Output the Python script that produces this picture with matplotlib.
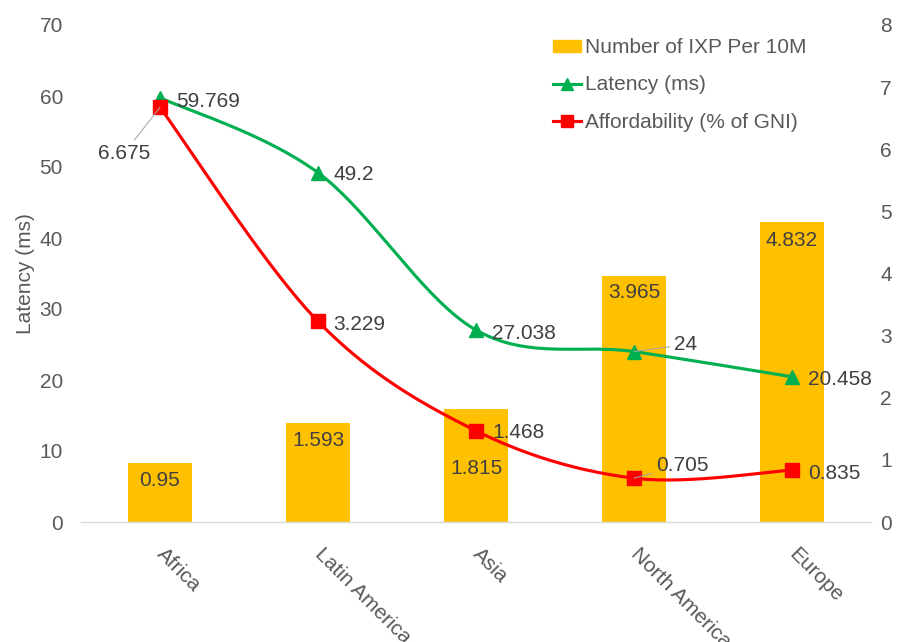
import numpy as np
import matplotlib.pyplot as plt
from matplotlib.patches import Patch
from matplotlib.lines import Line2D

plt.rcParams['font.family'] = ['Liberation Sans', 'DejaVu Sans']

regions = ['Africa', 'Latin America', 'Asia', 'North America', 'Europe']
ixp_per_10m = [0.95, 1.593, 1.815, 3.965, 4.832]
latency_ms = [59.769, 49.2, 27.038, 24, 20.458]
affordability = [6.675, 3.229, 1.468, 0.705, 0.835]

BAR = '#FFC000'
GREEN = '#00B050'
RED = '#FF0000'
AXIS_TXT = '#595959'
LABEL_TXT = '#404040'
LEADER = '#A6A6A6'
FS = 15


def smooth(xs, ys, n=40):
    # bezier pieces through every point (catmull-rom tangents), ends duplicated
    pts = np.column_stack([xs, ys]).astype(float)
    ext = np.vstack([pts[0], pts, pts[-1]])
    t = np.linspace(0, 1, n)[:, None]
    out = []
    for i in range(len(pts) - 1):
        p0, p1 = ext[i + 1], ext[i + 2]
        c1 = p0 + (ext[i + 2] - ext[i]) / 6
        c2 = p1 - (ext[i + 3] - ext[i + 1]) / 6
        seg = (1 - t) ** 3 * p0 + 3 * (1 - t) ** 2 * t * c1 + 3 * (1 - t) * t ** 2 * c2 + t ** 3 * p1
        out.append(seg if i == 0 else seg[1:])
    out = np.vstack(out)
    return out[:, 0], out[:, 1]


fig = plt.figure(figsize=(9.02, 6.42), dpi=100)
ax = fig.add_axes([81 / 902, 120 / 642, 790 / 902, 497 / 642])
x = np.arange(len(regions))

# bars on the 0-8 scale
ax.bar(x, ixp_per_10m, width=0.4, color=BAR, zorder=2)
ax.set_xlim(-0.5, 4.5)
ax.set_ylim(0, 8)

lat = ax.twinx()
lat.set_ylim(0, 70)
aff = ax.twinx()
aff.set_ylim(0, 8)

# right axis belongs to the bars, left axis to latency
ax.yaxis.tick_right()
ax.set_yticks(range(0, 9))
lat.yaxis.tick_left()
lat.yaxis.set_label_position('left')
lat.set_yticks(range(0, 71, 10))
aff.set_yticks([])

for a in (ax, lat, aff):
    for s in a.spines.values():
        s.set_visible(False)
ax.spines['bottom'].set_visible(True)
ax.spines['bottom'].set_color('#D9D9D9')
ax.spines['bottom'].set_linewidth(1.0)

ax.tick_params(axis='y', length=0, pad=6.5, labelsize=FS, labelcolor=AXIS_TXT)
lat.tick_params(axis='y', length=0, pad=13, labelsize=FS, labelcolor=AXIS_TXT)
lat.set_ylabel('Latency (ms)', fontsize=FS, color=AXIS_TXT, labelpad=3)

ax.set_xticks(x, regions)
ax.tick_params(axis='x', length=0, pad=21, labelsize=FS, labelcolor=AXIS_TXT)
plt.setp(ax.get_xticklabels(), rotation=-45, ha='left', va='center', rotation_mode='anchor')

# smoothed lines
sx, sy = smooth(x, latency_ms)
lat.plot(sx, sy, color=GREEN, lw=2.25, solid_capstyle='round')
lat.plot(x, latency_ms, ls='none', marker='^', ms=10, color=GREEN)

sx, sy = smooth(x, affordability)
aff.plot(sx, sy, color=RED, lw=2.25, solid_capstyle='round')
aff.plot(x, affordability, ls='none', marker='s', ms=10, color=RED)

# data labels (pixel offsets from each point)
lat_off = [(16, -4), (15, -2), (16, -3), (40, 7), (16, -3)]
lat_lead = [False, False, False, True, False]
for xi, v, off, lead in zip(x, latency_ms, lat_off, lat_lead):
    kw = dict(arrowprops=dict(arrowstyle='-', color=LEADER, lw=0.75, shrinkA=1, shrinkB=0)) if lead else {}
    lat.annotate(f'{v:g}', (xi, v), xytext=off, textcoords='offset pixels',
                 ha='left', va='center', fontsize=FS, color=LABEL_TXT, **kw)

aff_off = [(-36, -46), (15, -3), (16, -2), (22, 13), (16, -3)]
aff_ha = ['center', 'left', 'left', 'left', 'left']
aff_lead = [True, False, False, True, False]
for xi, v, off, ha, lead in zip(x, affordability, aff_off, aff_ha, aff_lead):
    kw = dict(arrowprops=dict(arrowstyle='-', color=LEADER, lw=0.75, shrinkA=1, shrinkB=0)) if lead else {}
    aff.annotate(f'{v:g}', (xi, v), xytext=off, textcoords='offset pixels',
                 ha=ha, va='center', fontsize=FS, color=LABEL_TXT, zorder=5, **kw)

bar_off = [-18, -17, -59, -17, -19]
for xi, v, dy in zip(x, ixp_per_10m, bar_off):
    ax.annotate(f'{v:g}', (xi, v), xytext=(0, dy), textcoords='offset pixels',
                ha='center', va='center', fontsize=FS, color=LABEL_TXT, zorder=3)

handles = [
    Patch(color=BAR, label='Number of IXP Per 10M'),
    Line2D([], [], color=GREEN, lw=2.25, marker='^', ms=9, label='Latency (ms)'),
    Line2D([], [], color=RED, lw=2.25, marker='s', ms=8, label='Affordability (% of GNI)'),
]
aff.legend(handles=handles, loc='upper left', bbox_to_anchor=(553 / 902, 1 - 38 / 642),
           bbox_transform=fig.transFigure, frameon=False, borderpad=0, borderaxespad=0,
           handlelength=1.35, handleheight=0.5, handletextpad=0.2, labelspacing=0.88,
           fontsize=FS, labelcolor=AXIS_TXT)

fig.savefig('out.png', dpi=100)
